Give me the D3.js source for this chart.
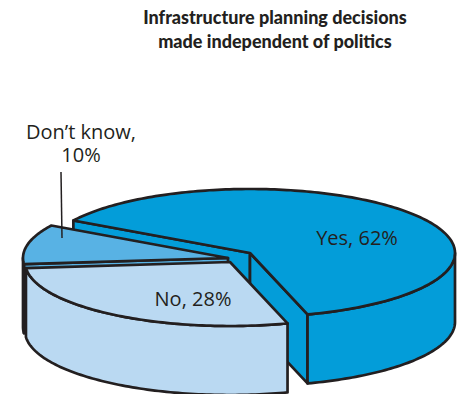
<!DOCTYPE html>
<html>
<head>
<meta charset="utf-8">
<script src="https://cdn.jsdelivr.net/npm/d3@7"></script>
<style>
  html, body { margin: 0; padding: 0; background: #ffffff; }
  svg { display: block; }
</style>
</head>
<body>
<svg id="chart" width="461" height="394"></svg>
<script>
// Survey answers and their shares (percent)
const categories = ["Yes", "No", "Don’t know"];
const values = [62, 28, 10];
const labelLines = [["Yes, 62%"], ["No, 28%"], ["Don’t know,", "10%"]];
const titleLines = ["Infrastructure planning decisions", "made independent of politics"];
const colors = ["#039dd9", "#bad9f2", "#58b2e4"];

// Layout of the tilted pie
const W = 461, H = 394;
const cx = 250, cy = 253;        // centre of the top ellipse
const rx = 205, ry = 64;         // ellipse radii
const depth = 69;                // thickness of the disc
const startDeg = 210.5;          // screen angle where the first slice starts
const ink = "#231f20";
const explode = { "Yes": [0, 0], "No": [-20, 9], "Don’t know": [-22, 5] };
const labelPos = { "Yes": [357, 245], "No": [193, 306], "Don’t know": [81, 139] };
const lineHeight = 23;
const leader = [[61, 172], [62, 238]];

const svg = d3.select("#chart");

// Title
svg.append("text")
  .attr("x", 275).attr("y", 24)
  .attr("text-anchor", "middle")
  .attr("font-family", "Lato, sans-serif")
  .attr("font-weight", 900)
  .attr("font-size", 18)
  .attr("fill", ink)
  .selectAll("tspan").data(titleLines).join("tspan")
  .attr("x", 275).attr("dy", (d, i) => i ? 24 : 0)
  .text(d => d);

const color = d3.scaleOrdinal().domain(categories).range(colors);

// d3.pie measures angles from 12 o'clock; convert to screen angles from +x
const startRad = (startDeg + 90) * Math.PI / 180;
const pie = d3.pie().sort(null).value(d => d.value)
  .startAngle(startRad).endAngle(startRad + 2 * Math.PI);

const data = categories.map((c, i) => ({ name: c, value: values[i], lines: labelLines[i] }));
const arcs = pie(data).map(a => {
  const s = a.startAngle - Math.PI / 2, e = a.endAngle - Math.PI / 2;
  const [ox, oy] = explode[a.data.name];
  return { ...a, s, e, ox, oy, mid: (s + e) / 2 };
});

const line = d3.line();
const pt = (t, ox, oy, z) => [cx + ox + rx * Math.cos(t), cy + oy + ry * Math.sin(t) + z];
const arcPts = (t0, t1, ox, oy, z) => {
  const n = Math.max(2, Math.ceil(Math.abs(t1 - t0) / 0.02));
  return d3.range(n + 1).map(k => pt(t0 + (t1 - t0) * k / n, ox, oy, z));
};

// Paint back slices first
const order = arcs.slice().sort((a, b) =>
  (Math.sin(a.mid) * ry + a.oy) - (Math.sin(b.mid) * ry + b.oy));

const g = svg.append("g")
  .attr("stroke", ink).attr("stroke-width", 2.7)
  .attr("stroke-linejoin", "round");

order.forEach(a => {
  const grp = g.append("g");
  const fill = color(a.data.name);
  const apexT = [cx + a.ox, cy + a.oy];
  const apexB = [cx + a.ox, cy + a.oy + depth];

  // Cut faces that turn toward the viewer
  const cut = t => [apexT, pt(t, a.ox, a.oy, 0), pt(t, a.ox, a.oy, depth), apexB];
  if (Math.cos(a.s) < 0) grp.append("path").attr("d", line(cut(a.s)) + "Z").attr("fill", fill);
  if (Math.cos(a.e) > 0) grp.append("path").attr("d", line(cut(a.e)) + "Z").attr("fill", fill);

  // Outer wall, only the front half of the ellipse
  const k0 = Math.floor(a.s / (2 * Math.PI)) - 1, k1 = Math.ceil(a.e / (2 * Math.PI));
  for (let k = k0; k <= k1; k++) {
    const lo = Math.max(a.s, 2 * Math.PI * k), hi = Math.min(a.e, 2 * Math.PI * k + Math.PI);
    if (hi > lo) {
      const pts = arcPts(lo, hi, a.ox, a.oy, 0).concat(arcPts(hi, lo, a.ox, a.oy, depth));
      grp.append("path").attr("d", line(pts) + "Z").attr("fill", fill);
    }
  }

  // Top face
  const top = [apexT].concat(arcPts(a.s, a.e, a.ox, a.oy, 0));
  grp.append("path").attr("d", line(top) + "Z").attr("fill", fill);
});

// Leader line for the small slice
svg.append("path").attr("d", line(leader))
  .attr("stroke", ink).attr("stroke-width", 1.5).attr("fill", "none");

// Slice labels
arcs.forEach(a => {
  const [lx, ly] = labelPos[a.data.name];
  svg.append("text")
    .attr("x", lx).attr("y", ly)
    .attr("text-anchor", "middle")
    .attr("font-family", "'Open Sans', sans-serif")
    .attr("font-size", 20)
    .attr("fill", ink)
    .selectAll("tspan").data(a.data.lines).join("tspan")
    .attr("x", lx).attr("dy", (d, i) => i ? lineHeight : 0)
    .text(d => d);
});
</script>
</body>
</html>
